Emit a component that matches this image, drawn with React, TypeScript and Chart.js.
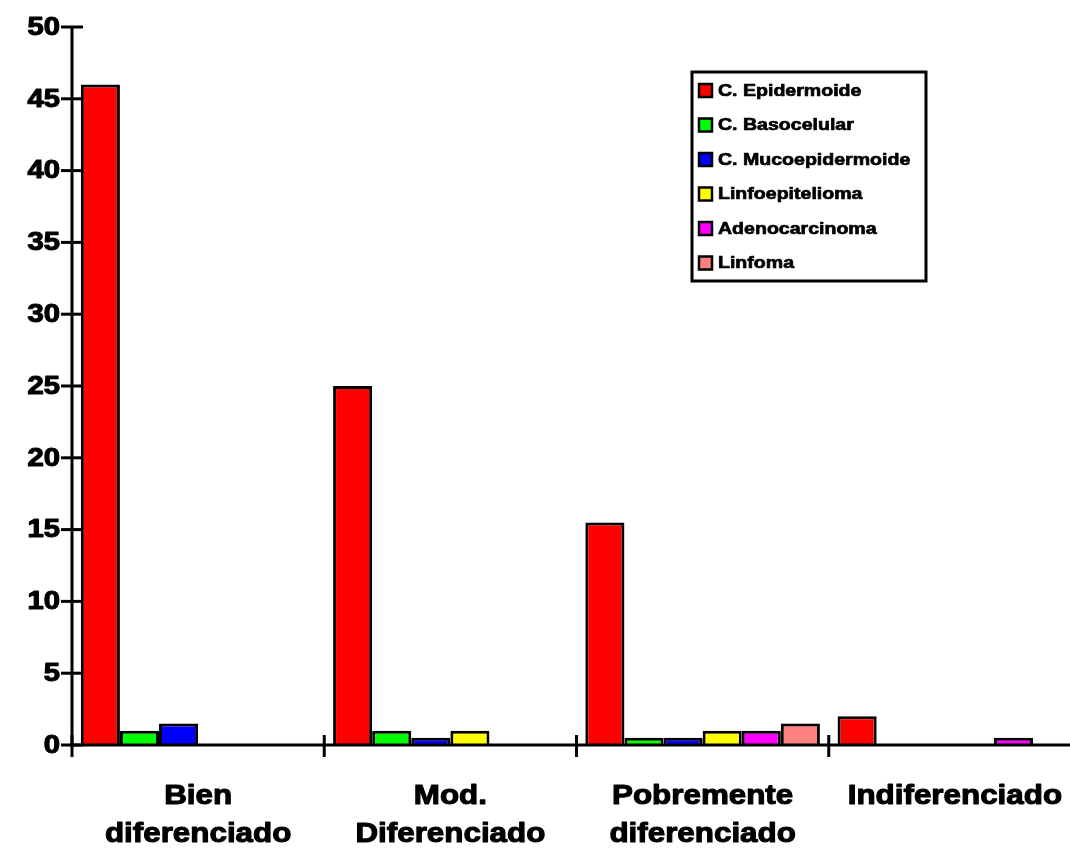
import React, { useEffect, useRef } from "react";
import { Chart, registerables } from "chart.js";
Chart.register(...registerables);

const categories: string[][] = [
  ["Bien", "diferenciado"],
  ["Mod.", "Diferenciado"],
  ["Pobremente", "diferenciado"],
  ["Indiferenciado"],
];
const seriesNames = [
  "C. Epidermoide",
  "C. Basocelular",
  "C. Mucoepidermoide",
  "Linfoepitelioma",
  "Adenocarcinoma",
  "Linfoma",
];
const epidermoide = [46, 25, 15.5, 2];
const basocelular = [1, 1, 0.5, null];
const mucoepidermoide = [1.5, 0.5, 0.5, null];
const linfoepitelioma = [null, 1, 1, null];
const adenocarcinoma = [null, null, 1, 0.5];
const linfoma = [null, null, 1.5, null];
const seriesColors = ["#FF0000", "#00FF00", "#0000FF", "#FFFF00", "#FF00FF", "#FF8080"];
const yTicks = [0, 5, 10, 15, 20, 25, 30, 35, 40, 45, 50];

const FONT = '"Liberation Sans", Arial, sans-serif';

function boldText(ctx: CanvasRenderingContext2D, t: string, sw: number) {
  ctx.fillText(t, 0, 0);
  ctx.lineWidth = sw;
  ctx.strokeStyle = "#000";
  ctx.lineJoin = "round";
  ctx.strokeText(t, 0, 0);
}

const axesPlugin = {
  id: "customAxes",
  afterDatasetsDraw(chart: any) {
    const ctx = chart.ctx as CanvasRenderingContext2D;
    const { left, right, top, bottom } = chart.chartArea;
    const ys = chart.scales.y;
    const xs = chart.scales.x;
    ctx.save();
    ctx.strokeStyle = "#000";
    ctx.fillStyle = "#000";
    ctx.lineWidth = 3;
    ctx.lineCap = "butt";
    ctx.beginPath();
    ctx.moveTo(left, top);
    ctx.lineTo(left, bottom + 1.5);
    ctx.stroke();
    ctx.beginPath();
    ctx.moveTo(left - 1.5, bottom);
    ctx.lineTo(right, bottom);
    ctx.stroke();
    for (const v of yTicks) {
      const y = ys.getPixelForValue(v);
      ctx.lineWidth = 3;
      ctx.beginPath();
      ctx.moveTo(left - 11, y);
      ctx.lineTo(left + 11, y);
      ctx.stroke();
      ctx.save();
      ctx.font = `bold 25px ${FONT}`;
      ctx.textAlign = "right";
      ctx.textBaseline = "middle";
      ctx.translate(60, y + 1);
      ctx.scale(1.17, 1);
      boldText(ctx, String(v), 1.1);
      ctx.restore();
    }
    const n = categories.length;
    const cw = (right - left) / n;
    for (let i = 0; i <= n; i++) {
      const x = left + i * cw;
      ctx.lineWidth = 3;
      ctx.beginPath();
      ctx.moveTo(x, bottom - 10);
      ctx.lineTo(x, bottom + 12);
      ctx.stroke();
    }
    categories.forEach((lines, i) => {
      const cx = xs.getPixelForValue(i);
      lines.forEach((t, j) => {
        ctx.save();
        ctx.font = `bold 28px ${FONT}`;
        ctx.textAlign = "center";
        ctx.textBaseline = "middle";
        ctx.translate(cx, 796 + j * 38);
        ctx.scale(1.12, 1);
        boldText(ctx, t, 1.1);
        ctx.restore();
      });
    });
    ctx.restore();
  },
  afterDraw(chart: any) {
    const ctx = chart.ctx as CanvasRenderingContext2D;
    ctx.save();
    ctx.fillStyle = "#fff";
    ctx.fillRect(692, 72, 234, 209);
    ctx.strokeStyle = "#000";
    ctx.lineWidth = 3;
    ctx.strokeRect(692, 72, 234, 209);
    chart.data.datasets.forEach((ds: any, i: number) => {
      const cy = 90.5 + i * 34.5;
      ctx.fillStyle = ds.backgroundColor;
      ctx.fillRect(699, cy - 6.5, 13, 13);
      ctx.lineWidth = 2.5;
      ctx.strokeStyle = "#000";
      ctx.strokeRect(699, cy - 6.5, 13, 13);
      ctx.save();
      ctx.fillStyle = "#000";
      ctx.font = `bold 17px ${FONT}`;
      ctx.textAlign = "left";
      ctx.textBaseline = "middle";
      ctx.translate(718, cy + 0.5);
      ctx.scale(1.15, 1);
      boldText(ctx, ds.label, 0.7);
      ctx.restore();
    });
    ctx.restore();
  },
};

export default function App() {
  const ref = useRef<HTMLCanvasElement | null>(null);
  useEffect(() => {
    if (!ref.current) return;
    const seriesData = [epidermoide, basocelular, mucoepidermoide, linfoepitelioma, adenocarcinoma, linfoma];
    const chart = new Chart(ref.current, {
      type: "bar",
      data: {
        labels: categories.map((c) => c.join(" ")),
        datasets: seriesNames.map((name, i) => ({
          label: name,
          data: seriesData[i] as any,
          backgroundColor: seriesColors[i],
          borderColor: "#000",
          borderWidth: 3,
          categoryPercentage: 0.93,
          barPercentage: 1,
        })),
      },
      options: {
        responsive: false,
        animation: false,
        layout: { padding: { left: 72, top: 27, right: 9, bottom: 105 } },
        plugins: { legend: { display: false }, tooltip: { enabled: false } },
        scales: {
          x: { display: false },
          y: { display: false, min: 0, max: 50 },
        },
      },
      plugins: [axesPlugin],
    });
    return () => chart.destroy();
  }, []);
  return (
    <div style={{ position: "absolute", left: 0, top: 0, width: 1070, height: 850, overflow: "hidden", background: "#fff" }}>
      <canvas ref={ref} width={1090} height={850} style={{ display: "block" }} />
    </div>
  );
}
